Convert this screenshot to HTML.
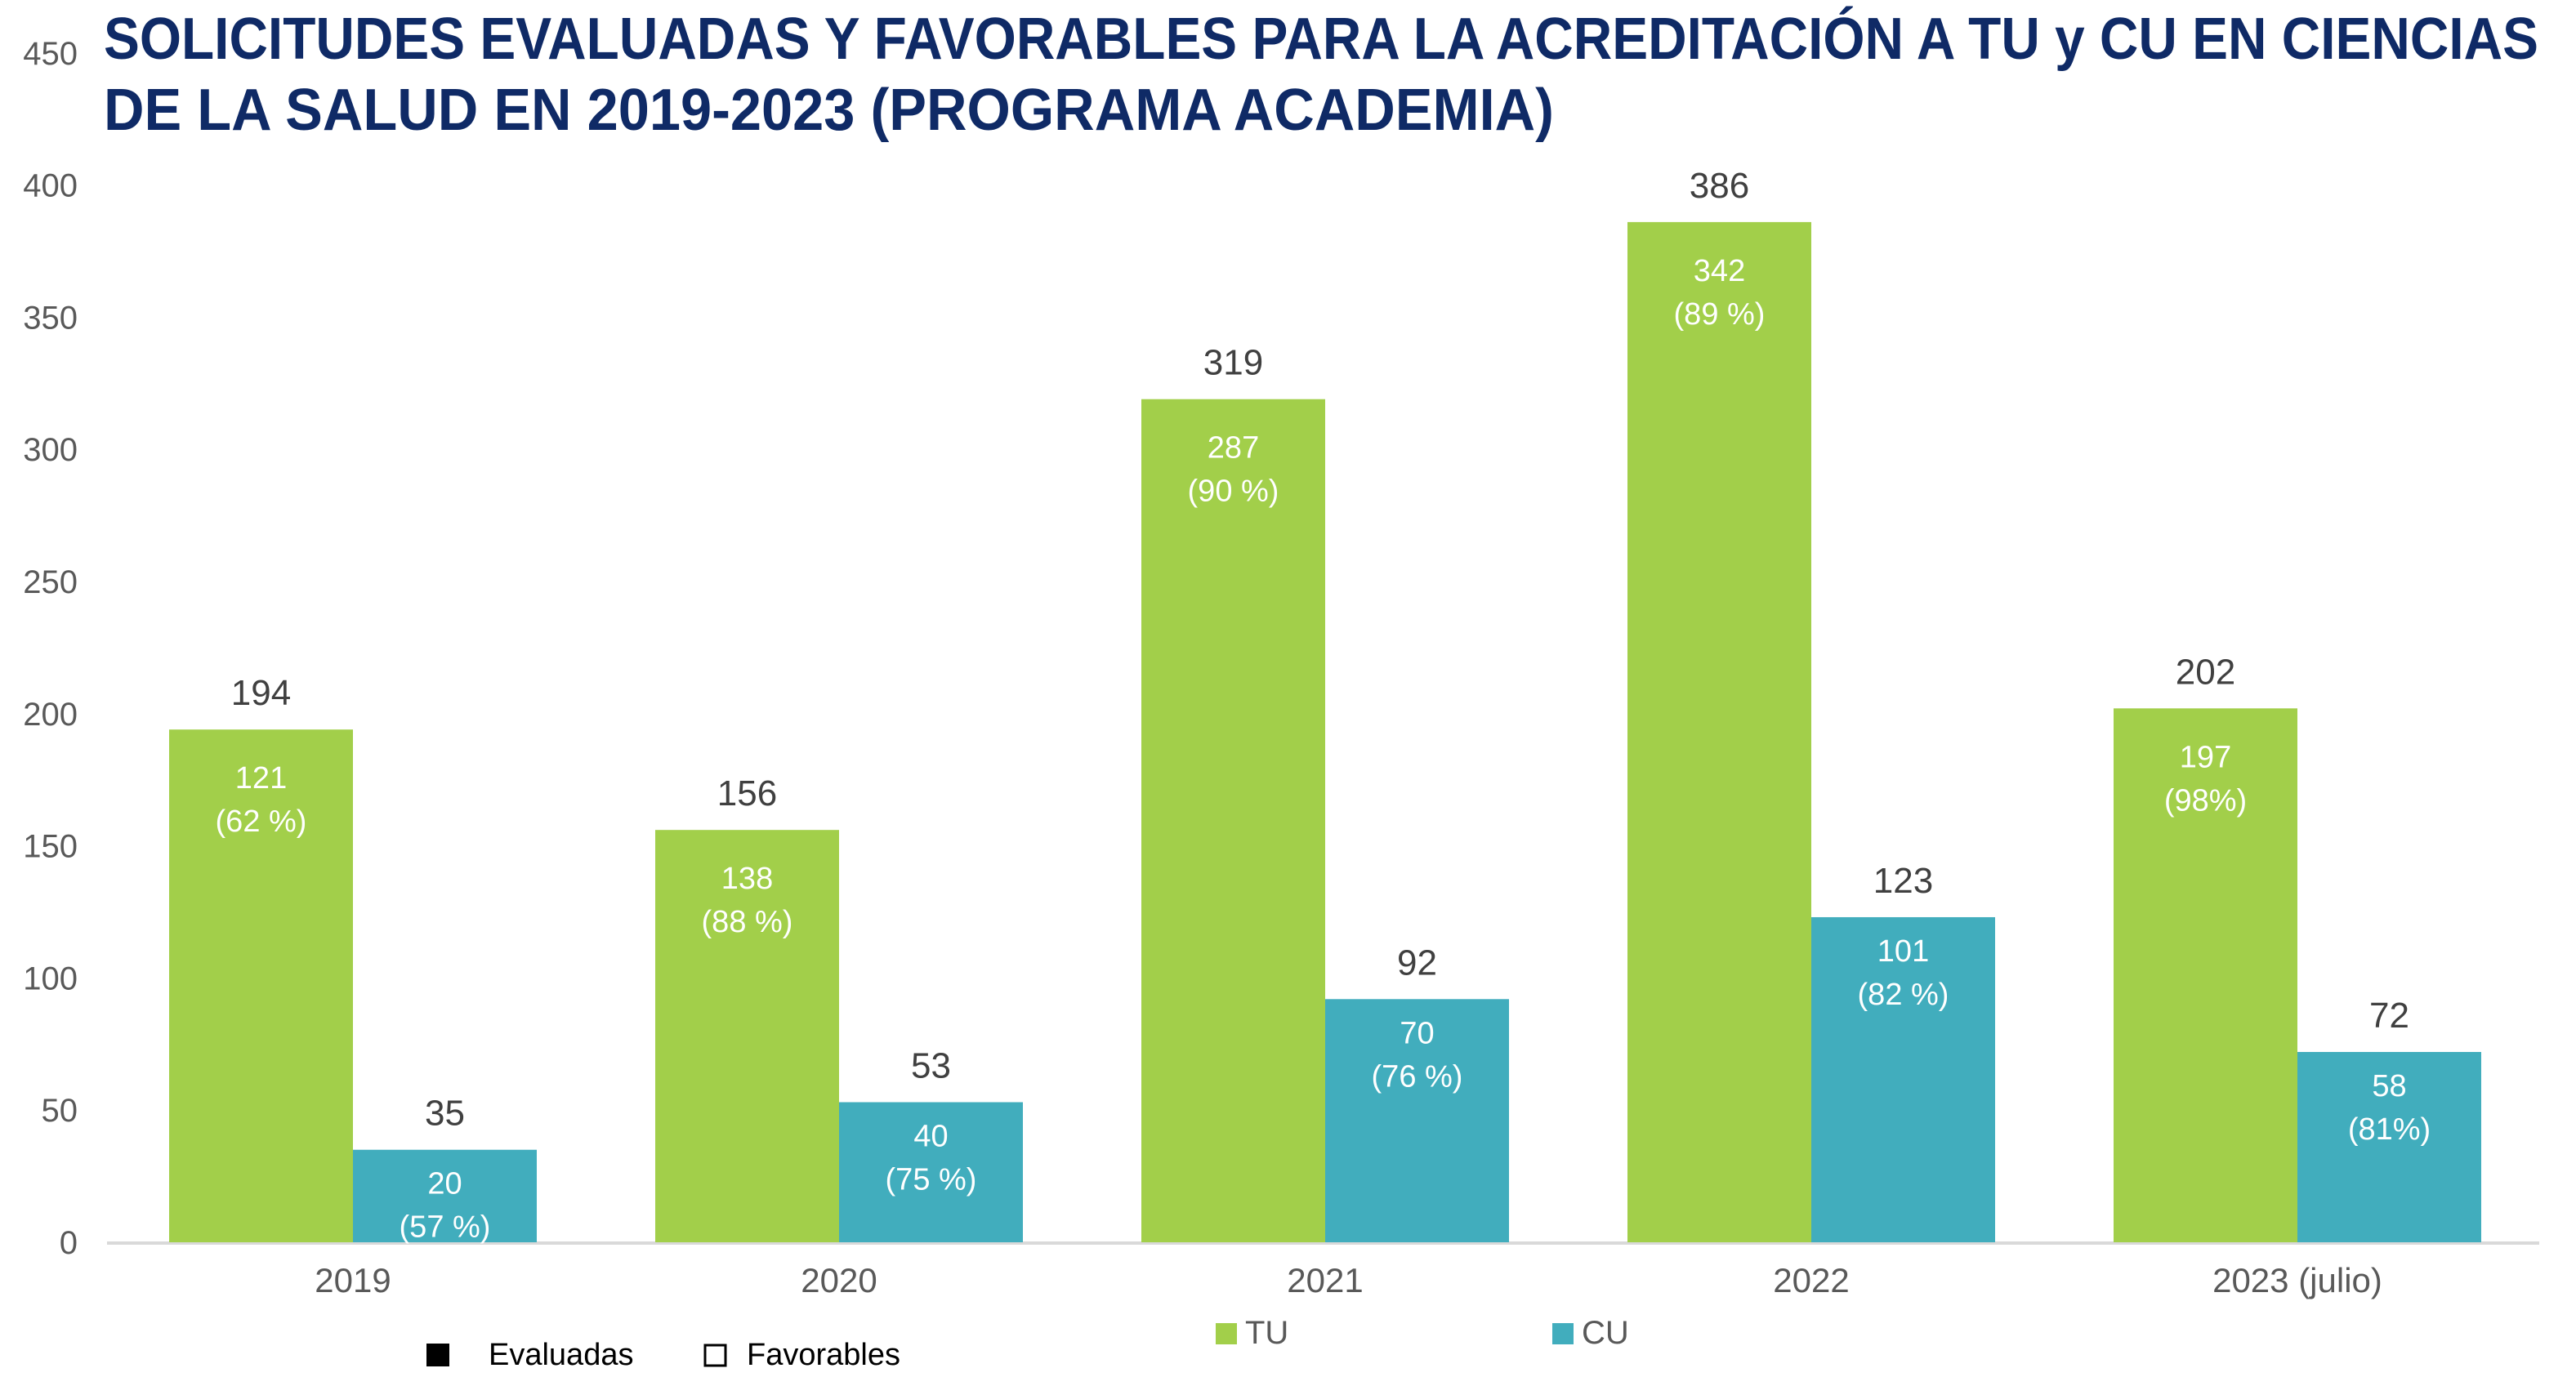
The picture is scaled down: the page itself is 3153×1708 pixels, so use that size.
<!DOCTYPE html>
<html><head><meta charset="utf-8"><style>
html,body{margin:0;padding:0;background:#fff;}
svg{display:block;}
</style></head><body>
<svg id="chart" width="3153" height="1708" viewBox="0 0 3153 1708" xmlns="http://www.w3.org/2000/svg">
<text x="127" y="72" font-family="Liberation Sans, sans-serif" font-weight="bold" font-size="72" fill="#0f2a66" textLength="2980" lengthAdjust="spacingAndGlyphs">SOLICITUDES EVALUADAS Y FAVORABLES PARA LA ACREDITACIÓN  A TU y CU EN CIENCIAS</text>
<text x="127" y="159" font-family="Liberation Sans, sans-serif" font-weight="bold" font-size="72" fill="#0f2a66" textLength="1775" lengthAdjust="spacingAndGlyphs">DE LA SALUD EN 2019-2023 (PROGRAMA ACADEMIA)</text>
<g id="yaxis"></g>
<line x1="131" y1="1522" x2="3108" y2="1522" stroke="#d9d9d9" stroke-width="4"/>
<g id="bars"></g>
<g id="xaxis"></g>
<g font-family="Liberation Sans, sans-serif" font-size="40" fill="#595959">
<rect x="1488" y="1620" width="26" height="26" fill="#a2cf4a"/>
<text x="1524" y="1645">TU</text>
<rect x="1900" y="1620" width="26" height="26" fill="#41adbd"/>
<text x="1936" y="1645">CU</text>
<rect x="522" y="1645" width="28" height="28" fill="#000"/>
<text x="598" y="1671" fill="#000" font-size="38">Evaluadas</text>
<rect x="863" y="1647" width="25" height="25" fill="none" stroke="#000" stroke-width="3"/>
<text x="914" y="1671" fill="#000" font-size="38">Favorables</text>
</g>
</svg>
<script>
const categories = ["2019","2020","2021","2022","2023 (julio)"];
const tuEvaluadas = [194,156,319,386,202];
const tuFavorables = [121,138,287,342,197];
const tuPct = ["(62 %)","(88 %)","(90 %)","(89 %)","(98%)"];
const cuEvaluadas = [35,53,92,123,72];
const cuFavorables = [20,40,70,101,58];
const cuPct = ["(57 %)","(75 %)","(76 %)","(82 %)","(81%)"];
const yTicks = [0,50,100,150,200,250,300,350,400,450];

const NS="http://www.w3.org/2000/svg";
const y0=1521, pxPerUnit=161.8/50;
const yScale=v=>y0-v*pxPerUnit;
const xCenter=i=>432+i*595;
const barW=225;
function mk(tag,attrs,parent,txt){const e=document.createElementNS(NS,tag);for(const k in attrs)e.setAttribute(k,attrs[k]);if(txt!==undefined)e.textContent=txt;parent.appendChild(e);return e;}
const ya=document.getElementById('yaxis');
yTicks.forEach(t=>{
  const e=mk('text',{x:95,y:yScale(t)+14,'text-anchor':'end','font-family':'Liberation Sans, sans-serif','font-size':40,fill:'#595959'},ya,t);
  
  
});
const bg=document.getElementById('bars');
function drawBar(x,val,fav,pct,color,name,off){
  const top=yScale(val);
  const r=mk('rect',{x:x,y:top,width:barW,height:y0-top,fill:color},bg);
  
  
  const cx=x+barW/2;
  const l=mk('text',{x:cx,y:top-30,'text-anchor':'middle','font-family':'Liberation Sans, sans-serif','font-size':44,fill:'#404040'},bg,val);
  
  
  const f=mk('text',{x:cx,y:top+off,'text-anchor':'middle','font-family':'Liberation Sans, sans-serif','font-size':38,fill:'#fff'},bg,fav);
  
  
  const p=mk('text',{x:cx,y:top+off+53,'text-anchor':'middle','font-family':'Liberation Sans, sans-serif','font-size':38,fill:'#fff'},bg,pct);
  
  
}
const xa=document.getElementById('xaxis');
categories.forEach((c,i)=>{
  drawBar(xCenter(i)-barW,tuEvaluadas[i],tuFavorables[i],tuPct[i],'#a2cf4a','bar-tu-'+i,72);
  drawBar(xCenter(i),cuEvaluadas[i],cuFavorables[i],cuPct[i],'#41adbd','bar-cu-'+i,54);
  const t=mk('text',{x:xCenter(i),y:1582,'text-anchor':'middle','font-family':'Liberation Sans, sans-serif','font-size':42,fill:'#595959'},xa,c);
  
  
});
</script>
</body></html>
